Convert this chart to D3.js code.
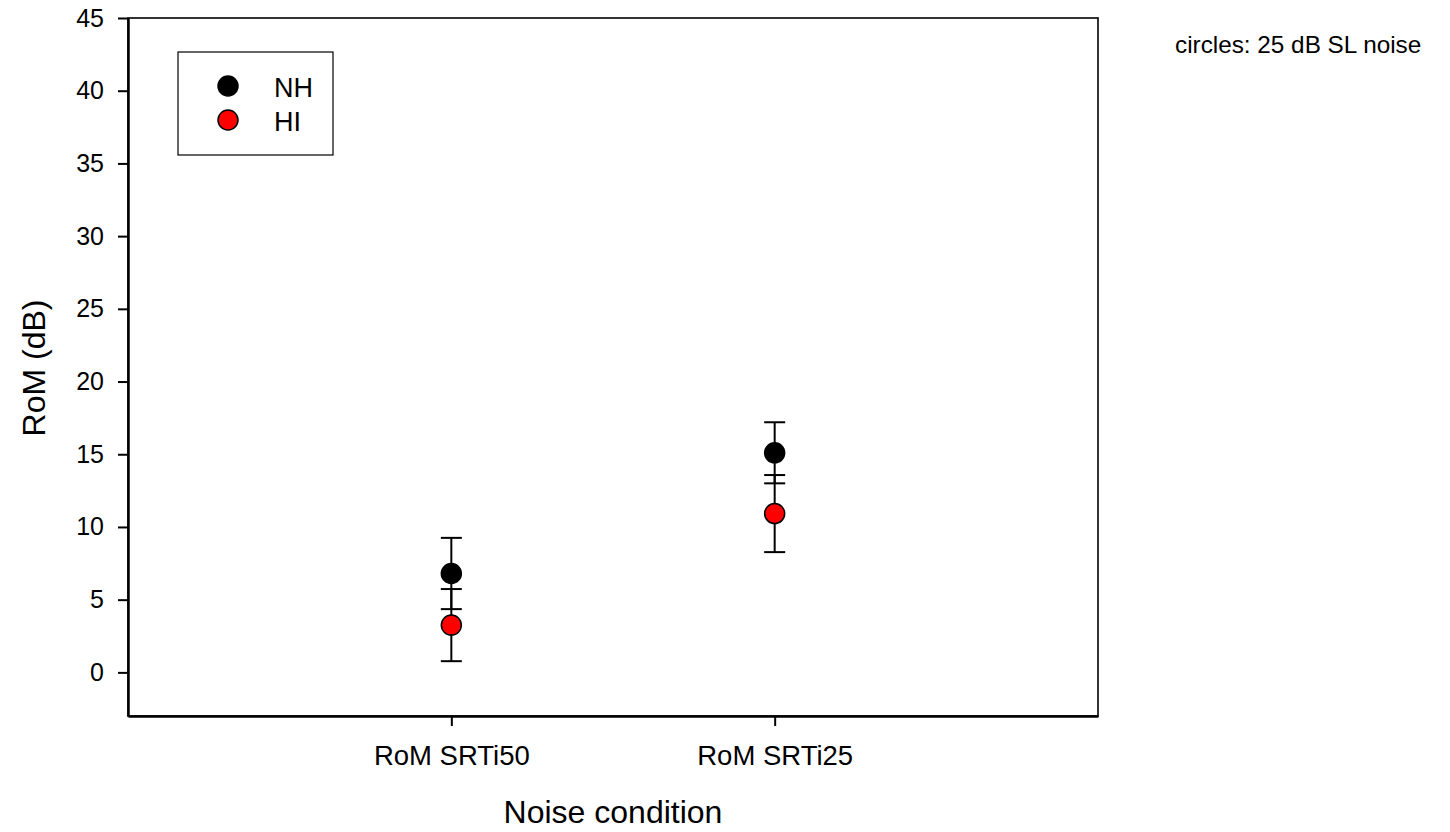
<!DOCTYPE html>
<html>
<head>
<meta charset="utf-8">
<script src="https://cdn.jsdelivr.net/npm/d3@7"></script>
<style>
  html, body { margin: 0; padding: 0; background: #fff; }
  svg { display: block; font-family: "Liberation Sans", Arial, sans-serif; }
</style>
</head>
<body>
<svg id="chart" width="1450" height="832"></svg>
<script>
const categories = ["RoM SRTi50", "RoM SRTi25"];
const seriesNames = ["NH", "HI"];
const seriesColors = ["#000000", "#ff0000"];
const nhMean = [6.8, 15.1];
const nhErr = [2.45, 2.1];
const hiMean = [3.25, 10.92];
const hiErr = [2.48, 2.65];
const yTicks = [0, 5, 10, 15, 20, 25, 30, 35, 40, 45];

(function () {
const series = [
  { name: seriesNames[0], color: seriesColors[0], mean: nhMean, err: nhErr },
  { name: seriesNames[1], color: seriesColors[1], mean: hiMean, err: hiErr }
];

const pL = 128, pR = 1098, pT = 18, pB = 716;
const svg = d3.select("#chart");
const FF = "Liberation Sans, Arial, sans-serif";

const x = d3.scaleLinear().domain([0, 3]).range([pL, pR]);
const y = d3.scaleLinear().domain([-3, 45]).range([pB, pT]);

// frame
svg.append("rect").attr("x", pL).attr("y", pT)
  .attr("width", pR - pL).attr("height", pB - pT)
  .attr("fill", "none").attr("stroke", "#000").attr("stroke-width", 1.6);

// y axis
const yAxis = d3.axisLeft(y).tickValues(yTicks).tickSize(10).tickSizeOuter(0)
  .tickPadding(14).tickFormat(d3.format("d"));
const gy = svg.append("g").attr("transform", `translate(${pL},0)`).call(yAxis);
gy.select(".domain").attr("stroke-width", 2.5);
gy.selectAll(".tick line").attr("stroke-width", 2);
gy.selectAll(".tick text").attr("font-size", 25).attr("fill", "#000").attr("font-family", FF);

// x axis
const xAxis = d3.axisBottom(x).tickValues([1, 2]).tickSize(10).tickSizeOuter(0).tickPadding(19)
  .tickFormat((d) => categories[d - 1]);
const gx = svg.append("g").attr("transform", `translate(0,${pB})`).call(xAxis);
gx.select(".domain").attr("stroke-width", 2.5);
gx.selectAll(".tick line").attr("stroke-width", 2);
gx.selectAll(".tick text").attr("font-size", 27.5).attr("fill", "#000").attr("font-family", FF);

// axis titles
svg.append("text").attr("x", (pL + pR) / 2).attr("y", 823)
  .attr("text-anchor", "middle").attr("font-size", 32).text("Noise condition");
svg.append("text").attr("transform", `translate(45,368) rotate(-90)`)
  .attr("text-anchor", "middle").attr("font-size", 32).text("RoM (dB)");

// error bars and points
const capW = 10.5;
series.forEach((s) => {
  const g = svg.append("g");
  categories.forEach((c, i) => {
    const cx = x(i + 1);
    const lo = y(s.mean[i] - s.err[i]), hi = y(s.mean[i] + s.err[i]);
    g.append("line").attr("x1", cx).attr("x2", cx).attr("y1", lo).attr("y2", hi)
      .attr("stroke", "#000").attr("stroke-width", 2);
    [lo, hi].forEach((yy) => {
      g.append("line").attr("x1", cx - capW).attr("x2", cx + capW)
        .attr("y1", yy).attr("y2", yy).attr("stroke", "#000").attr("stroke-width", 2);
    });
  });
});
series.forEach((s) => {
  svg.append("g").selectAll("circle").data(s.mean).join("circle")
    .attr("cx", (d, i) => x(i + 1)).attr("cy", (d) => y(d)).attr("r", 10)
    .attr("fill", s.color).attr("stroke", "#000").attr("stroke-width", 1.5);
});

// legend
const lg = svg.append("g");
lg.append("rect").attr("x", 178).attr("y", 52).attr("width", 155).attr("height", 103)
  .attr("fill", "#fff").attr("stroke", "#000").attr("stroke-width", 1.2);
series.forEach((s, i) => {
  const ly = 86 + i * 34;
  lg.append("circle").attr("cx", 228).attr("cy", ly).attr("r", 10)
    .attr("fill", s.color).attr("stroke", "#000").attr("stroke-width", 1.5);
  lg.append("text").attr("x", 274).attr("y", ly + 10.5).attr("font-size", 27).text(s.name);
});

// annotation
svg.append("text").attr("x", 1175).attr("y", 53).attr("font-size", 24.3).text("circles: 25 dB SL noise");
})();
</script>
</body>
</html>
